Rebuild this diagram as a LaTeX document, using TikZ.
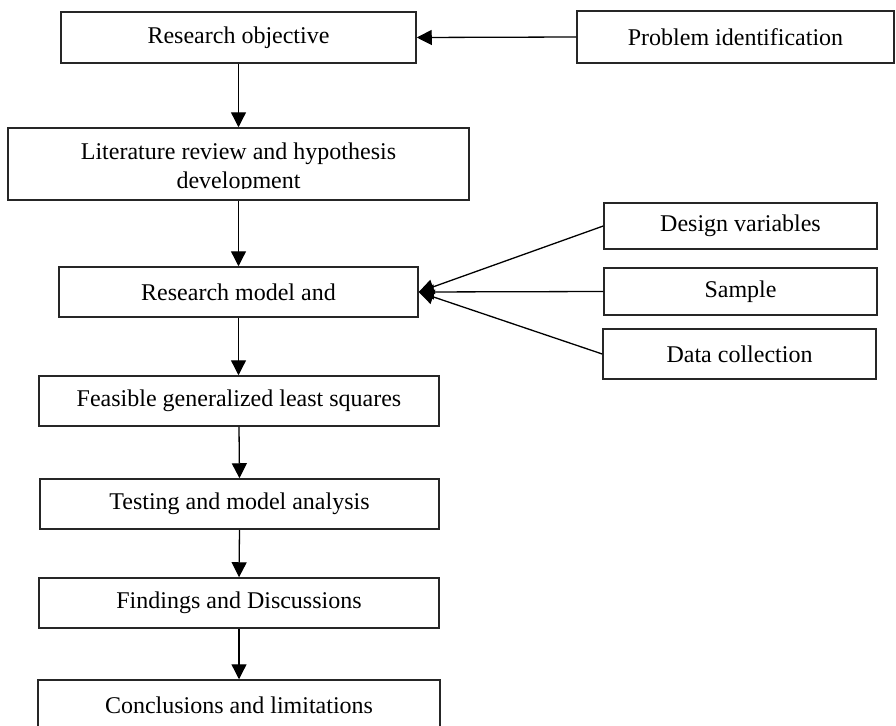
\documentclass[tikz,border=0pt]{standalone}
\usepackage{fontspec}
\setmainfont{Liberation Serif}
\usetikzlibrary{arrows.meta}
\begin{document}
\begin{tikzpicture}[x=1pt,y=-1pt,
  box/.style={draw=black!85, line width=1.5pt, fill=none, inner sep=0pt, font=\fontsize{24}{28}\selectfont},
  txt/.style={inner sep=0pt, font=\fontsize{24}{28}\selectfont},
  conn/.style={draw=black, line width=1.3pt, -{Triangle[length=15pt,width=15pt]}}]
\useasboundingbox (0,0) rectangle (896,725);
\clip (0,0) rectangle (896,725);
% top row
\node[box, minimum width=355pt, minimum height=51pt] (obj) at (238.5,37.5) {Research objective};
\node[box, minimum width=317pt, minimum height=52pt] (prob) at (735.5,37) {Problem identification};
% literature box with clipped second line
\begin{scope}
\clip (8,128) rectangle (469,188.5);
\node[txt, anchor=base] (lit1) at (238.5,159) {Literature review and hypothesis};
\node[txt, anchor=base] (lit2) at (238.5,188.5) {development};
\end{scope}
\node[box, minimum width=461pt, minimum height=72pt] (lit) at (238.5,164) {};
% research model
\node[box, minimum width=359pt, minimum height=50pt] (model) at (238.5,292) {Research model and};
% right inputs
\node[box, minimum width=273pt, minimum height=46pt] (design) at (740.5,226) {Design variables};
\node[box, minimum width=273pt, minimum height=47pt] (sample) at (740.5,291.5) {Sample};
\node[box, minimum width=273pt, minimum height=50pt] (data) at (739.5,354) {Data collection};
% lower chain
\node[box, minimum width=400pt, minimum height=50pt] (fgls) at (239,401) {Feasible generalized least squares};
\node[box, minimum width=399pt, minimum height=50pt] (test) at (239.5,504) {Testing and model analysis};
\node[box, minimum width=400pt, minimum height=50pt] (find) at (239,603) {Findings and Discussions};
\node[box, minimum width=402pt, minimum height=50pt] (concl) at (239,705) {Conclusions and limitations};
% connectors
\draw[conn] (prob.west) -- (obj.east);
\draw[conn] (obj.south) -- (lit.north);
\draw[conn] (lit.south) -- (model.north);
\draw[conn] (design.west) -- (model.east);
\draw[conn] (sample.west) -- (model.east);
\draw[conn] (data.west) -- (model.east);
\draw[conn] (model.south) -- (model.south |- fgls.north);
\draw[conn] (fgls.south) -- (test.north);
\draw[conn] (test.south) -- (find.north);
\draw[conn] (find.south) -- (concl.north);
\end{tikzpicture}
\end{document}
